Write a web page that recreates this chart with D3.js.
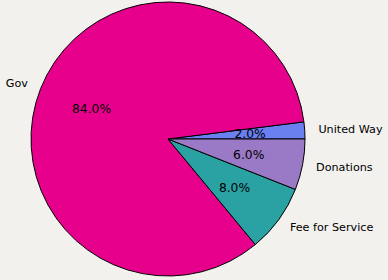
<!DOCTYPE html>
<html>
<head>
<meta charset="utf-8">
<script src="https://d3js.org/d3.v7.min.js"></script>
<style>
  html, body { margin: 0; padding: 0; background: #f2f1ee; }
  text { font-family: "DejaVu Sans", sans-serif; fill: #000; }
</style>
</head>
<body>
<script>
// slices in drawing order (counter-clockwise from 3 o'clock)
const labels = ["United Way", "Gov", "Fee for Service", "Donations"];
const shares = [2, 84, 8, 6];
const colors = ["#6a7ff0", "#e6008b", "#2aa1a3", "#9a7ac6"];

const width = 388, height = 280;
const cx = 168, cy = 139, radius = 137;

const svg = d3.select("body").append("svg")
    .attr("width", width)
    .attr("height", height);

const g = svg.append("g").attr("transform", `translate(${cx},${cy})`);

// d3 angles are clockwise from 12 o'clock; convert from math angles
const total = d3.sum(shares);
let acc = 0;
const slices = shares.map((v, i) => {
    const a0 = acc / total * 2 * Math.PI;
    acc += v;
    const a1 = acc / total * 2 * Math.PI;
    return { label: labels[i], value: v, color: colors[i], a0, a1 };
});

const arc = d3.arc().innerRadius(0).outerRadius(radius);

g.selectAll("path")
    .data(slices)
    .enter().append("path")
    .attr("d", d => arc({ startAngle: Math.PI / 2 - d.a1, endAngle: Math.PI / 2 - d.a0 }))
    .attr("fill", d => d.color)
    .attr("stroke", "#000")
    .attr("stroke-width", 1)
    .attr("stroke-linejoin", "round");

const fmt = d3.format(".1f");

// outer category labels
g.selectAll("text.lab")
    .data(slices)
    .enter().append("text")
    .attr("class", "lab")
    .attr("x", d => Math.cos((d.a0 + d.a1) / 2) * radius * 1.1)
    .attr("y", d => -Math.sin((d.a0 + d.a1) / 2) * radius * 1.1)
    .attr("dy", "0.35em")
    .attr("text-anchor", d => Math.cos((d.a0 + d.a1) / 2) < 0 ? "end" : "start")
    .attr("font-size", 11.2)
    .attr("fill", "#222")
    .text(d => d.label);

// percentage labels
g.selectAll("text.pct")
    .data(slices)
    .enter().append("text")
    .attr("class", "pct")
    .attr("x", d => Math.cos((d.a0 + d.a1) / 2) * radius * 0.6)
    .attr("y", d => -Math.sin((d.a0 + d.a1) / 2) * radius * 0.6)
    .attr("dy", "0.35em")
    .attr("text-anchor", "middle")
    .attr("font-size", 12.3)
    .text(d => fmt(d.value / total * 100) + "%");
</script>
</body>
</html>
